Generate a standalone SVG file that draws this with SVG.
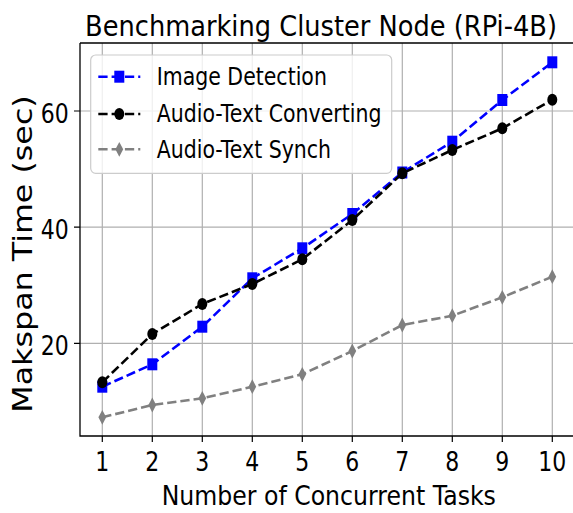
<svg xmlns="http://www.w3.org/2000/svg" width="573" height="513" viewBox="0 0 573 513">
  <style>
    text { font-family: "DejaVu Sans", "Liberation Sans", sans-serif; fill: #000; }
    .grid { stroke: #b0b0b0; stroke-width: 1.2; fill: none; }
    .spine { stroke: #000; stroke-width: 1.3; fill: none; }
    .tick { stroke: #000; stroke-width: 1.2; }
    .tl { font-size: 22px; }
    .lab { font-size: 23.6px; }
    .leg { font-size: 20.5px; }
    .s1 { stroke: #0000ff; }
    .s2 { stroke: #000000; }
    .s3 { stroke: #808080; }
    .series { fill: none; stroke-width: 2.6; stroke-dasharray: 9.3 4; }
  </style>
  <defs>
    <rect id="m-sq" x="-5" y="-6" width="10" height="12" fill="#0000ff"/>
    <ellipse id="m-ci" rx="5" ry="6" fill="#000"/>
    <path id="m-di" d="M0,-7.4 L3.9,0 L0,7.4 L-3.9,0 Z" fill="#808080"/>
  </defs>

  <rect width="573" height="513" fill="#fff"/>

  <!-- grid -->
  <g id="grid">
    <path class="grid" d="M102.3,43V436M152.3,43V436M202.3,43V436M252.3,43V436M302.3,43V436M352.3,43V436M402.3,43V436M452.3,43V436M502.3,43V436M552.3,43V436"/>
    <path class="grid" d="M80,111H573M80,227.2H573M80,343.3H573"/>
  </g>

  <!-- data series -->
  <g id="connectors">
    <polyline class="series s1" points="102.3,386.7 152.3,364.3 202.3,326.7 252.3,278.3 302.3,248.3 352.3,214 402.3,172.5 452.3,141.7 502.3,100 552.3,62.3"/>
    <g id="pts-image">
      <use href="#m-sq" x="102.3" y="386.7"/><use href="#m-sq" x="152.3" y="364.3"/><use href="#m-sq" x="202.3" y="326.7"/><use href="#m-sq" x="252.3" y="278.3"/><use href="#m-sq" x="302.3" y="248.3"/><use href="#m-sq" x="352.3" y="214"/><use href="#m-sq" x="402.3" y="172.5"/><use href="#m-sq" x="452.3" y="141.7"/><use href="#m-sq" x="502.3" y="100"/><use href="#m-sq" x="552.3" y="62.3"/>
    </g>
    <polyline class="series s2" points="102.3,382.3 152.3,334 202.3,304 252.3,284 302.3,259.3 352.3,220 402.3,173.3 452.3,150 502.3,128.3 552.3,99.7"/>
    <g id="pts-convert">
      <use href="#m-ci" x="102.3" y="382.3"/><use href="#m-ci" x="152.3" y="334"/><use href="#m-ci" x="202.3" y="304"/><use href="#m-ci" x="252.3" y="284"/><use href="#m-ci" x="302.3" y="259.3"/><use href="#m-ci" x="352.3" y="220"/><use href="#m-ci" x="402.3" y="173.3"/><use href="#m-ci" x="452.3" y="150"/><use href="#m-ci" x="502.3" y="128.3"/><use href="#m-ci" x="552.3" y="99.7"/>
    </g>
    <polyline class="series s3" points="102.3,417.3 152.3,405 202.3,398.3 252.3,386.7 302.3,374.3 352.3,351 402.3,325 452.3,315.7 502.3,297.3 552.3,276.7"/>
    <g id="pts-synch">
      <use href="#m-di" x="102.3" y="417.3"/><use href="#m-di" x="152.3" y="405"/><use href="#m-di" x="202.3" y="398.3"/><use href="#m-di" x="252.3" y="386.7"/><use href="#m-di" x="302.3" y="374.3"/><use href="#m-di" x="352.3" y="351"/><use href="#m-di" x="402.3" y="325"/><use href="#m-di" x="452.3" y="315.7"/><use href="#m-di" x="502.3" y="297.3"/><use href="#m-di" x="552.3" y="276.7"/>
    </g>
  </g>

  <!-- axes frame and ticks -->
  <g id="axes">
    <path class="spine" d="M80,43V436H575M80,43H575"/>
    <path class="tick" d="M102.3,436V442M152.3,436V442M202.3,436V442M252.3,436V442M302.3,436V442M352.3,436V442M402.3,436V442M452.3,436V442M502.3,436V442M552.3,436V442"/>
    <path class="tick" d="M74,111H80M74,227.2H80M74,343.3H80"/>
  </g>

  <!-- tick labels -->
  <g id="xticklabels" class="tl" text-anchor="middle">
    <text transform="matrix(1 0 0 1.18 102.3 470.5)">1</text>
    <text transform="matrix(1 0 0 1.18 152.3 470.5)">2</text>
    <text transform="matrix(1 0 0 1.18 202.3 470.5)">3</text>
    <text transform="matrix(1 0 0 1.18 252.3 470.5)">4</text>
    <text transform="matrix(1 0 0 1.18 302.3 470.5)">5</text>
    <text transform="matrix(1 0 0 1.18 352.3 470.5)">6</text>
    <text transform="matrix(1 0 0 1.18 402.3 470.5)">7</text>
    <text transform="matrix(1 0 0 1.18 452.3 470.5)">8</text>
    <text transform="matrix(1 0 0 1.18 502.3 470.5)">9</text>
    <text transform="matrix(1 0 0 1.18 552.3 470.5)">10</text>
  </g>
  <g id="yticklabels" class="tl" text-anchor="end">
    <text transform="matrix(1 0 0 1.18 68.8 122.5)">60</text>
    <text transform="matrix(1 0 0 1.18 68.8 238.7)">40</text>
    <text transform="matrix(1 0 0 1.18 68.8 354.8)">20</text>
  </g>

  <!-- axis labels and title -->
  <g id="labels">
    <text class="lab" text-anchor="middle" transform="matrix(1 0 0 1.16 328.8 505)">Number of Concurrent Tasks</text>
    <text text-anchor="middle" font-size="26" transform="translate(32 254) scale(1 1.22) rotate(-90)">Makspan Time (sec)</text>
    <text id="title" text-anchor="middle" font-size="25.7" transform="matrix(1 0 0 1.1 321 36)">Benchmarking Cluster Node (RPi-4B)</text>
  </g>

  <!-- legend -->
  <g id="legend">
    <rect x="90.7" y="55" width="301" height="118.3" rx="5" fill="#fff" fill-opacity="0.8" stroke="#cccccc" stroke-width="1.2"/>
    <g id="leg-image">
      <path class="series s1" d="M98.3,76.7H140.3"/>
      <use href="#m-sq" x="119.3" y="76.7"/>
      <text class="leg" transform="matrix(1 0 0 1.2 156.7 85)">Image Detection</text>
    </g>
    <g id="leg-convert">
      <path class="series s2" d="M98.3,114H140.3"/>
      <use href="#m-ci" x="119.3" y="114"/>
      <text class="leg" transform="matrix(1 0 0 1.2 156.7 122.3)">Audio-Text Converting</text>
    </g>
    <g id="leg-synch">
      <path class="series s3" d="M98.3,149.3H140.3"/>
      <use href="#m-di" x="119.3" y="149.3"/>
      <text class="leg" transform="matrix(1 0 0 1.2 156.7 158.3)">Audio-Text Synch</text>
    </g>
  </g>
</svg>
